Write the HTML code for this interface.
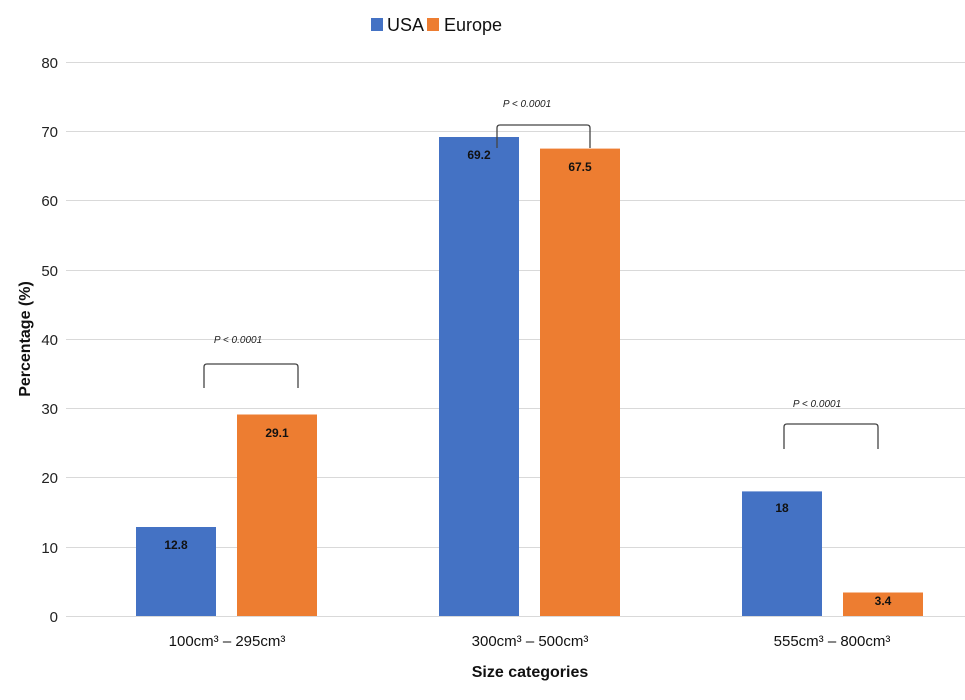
<!DOCTYPE html>
<html><head><meta charset="utf-8"><style>
html,body{margin:0;padding:0;background:#fff;}
svg{display:block;font-family:"Liberation Sans",sans-serif;}
</style></head><body>
<svg width="965" height="700" viewBox="0 0 965 700" xmlns="http://www.w3.org/2000/svg">
<rect width="965" height="700" fill="#fff"/>
<g stroke="#d9d9d9" stroke-width="1">
<line x1="66" x2="965" y1="62.5" y2="62.5"/>
<line x1="66" x2="965" y1="131.5" y2="131.5"/>
<line x1="66" x2="965" y1="200.5" y2="200.5"/>
<line x1="66" x2="965" y1="270.5" y2="270.5"/>
<line x1="66" x2="965" y1="339.5" y2="339.5"/>
<line x1="66" x2="965" y1="408.5" y2="408.5"/>
<line x1="66" x2="965" y1="477.5" y2="477.5"/>
<line x1="66" x2="965" y1="547.5" y2="547.5"/>
<line x1="66" x2="965" y1="616.5" y2="616.5"/>
</g>
<g font-size="15" fill="#222" text-anchor="end">
<text x="58" y="68">80</text><text x="58" y="137">70</text><text x="58" y="206">60</text>
<text x="58" y="276">50</text><text x="58" y="345">40</text><text x="58" y="414">30</text>
<text x="58" y="483">20</text><text x="58" y="553">10</text><text x="58" y="622">0</text>
</g>
<rect x="136" y="527" width="80" height="89" fill="#4472c4"/>
<rect x="237" y="414.5" width="80" height="201.5" fill="#ed7d31"/>
<rect x="439" y="137" width="80" height="479" fill="#4472c4"/>
<rect x="540" y="148.6" width="80" height="467.4" fill="#ed7d31"/>
<rect x="742" y="491.4" width="80" height="124.6" fill="#4472c4"/>
<rect x="843" y="592.5" width="80" height="23.5" fill="#ed7d31"/>
<g font-size="12" font-weight="bold" fill="#111" text-anchor="middle">
<text x="176" y="549">12.8</text><text x="277" y="437">29.1</text>
<text x="479" y="159">69.2</text><text x="580" y="171">67.5</text>
<text x="782" y="512">18</text><text x="883" y="605">3.4</text>
</g>
<g fill="none" stroke="#444" stroke-width="1.3">
<path d="M204 388 V367 Q204 364 207 364 H295 Q298 364 298 367 V388"/>
<path d="M497 148 V128 Q497 125 500 125 H587 Q590 125 590 128 V148"/>
<path d="M784 449 V427 Q784 424 787 424 H875 Q878 424 878 427 V449"/>
</g>
<g font-size="10" font-style="italic" fill="#222" text-anchor="middle">
<text x="238" y="343">P &lt; 0.0001</text>
<text x="527" y="107">P &lt; 0.0001</text>
<text x="817" y="407">P &lt; 0.0001</text>
</g>
<g font-size="15" fill="#111" text-anchor="middle">
<text x="227" y="646">100cm³ – 295cm³</text>
<text x="530" y="646">300cm³ – 500cm³</text>
<text x="832" y="646">555cm³ – 800cm³</text>
</g>
<text x="530" y="677" font-size="16" font-weight="bold" text-anchor="middle" fill="#111">Size categories</text>
<text transform="translate(30,339) rotate(-90)" font-size="16" font-weight="bold" text-anchor="middle" fill="#111">Percentage (%)</text>
<rect x="371" y="18" width="12" height="13" fill="#4472c4"/>
<text x="387" y="31" font-size="18" fill="#111">USA</text>
<rect x="427" y="18" width="12" height="13" fill="#ed7d31"/>
<text x="444" y="31" font-size="18" fill="#111">Europe</text>
</svg>
</body></html>
